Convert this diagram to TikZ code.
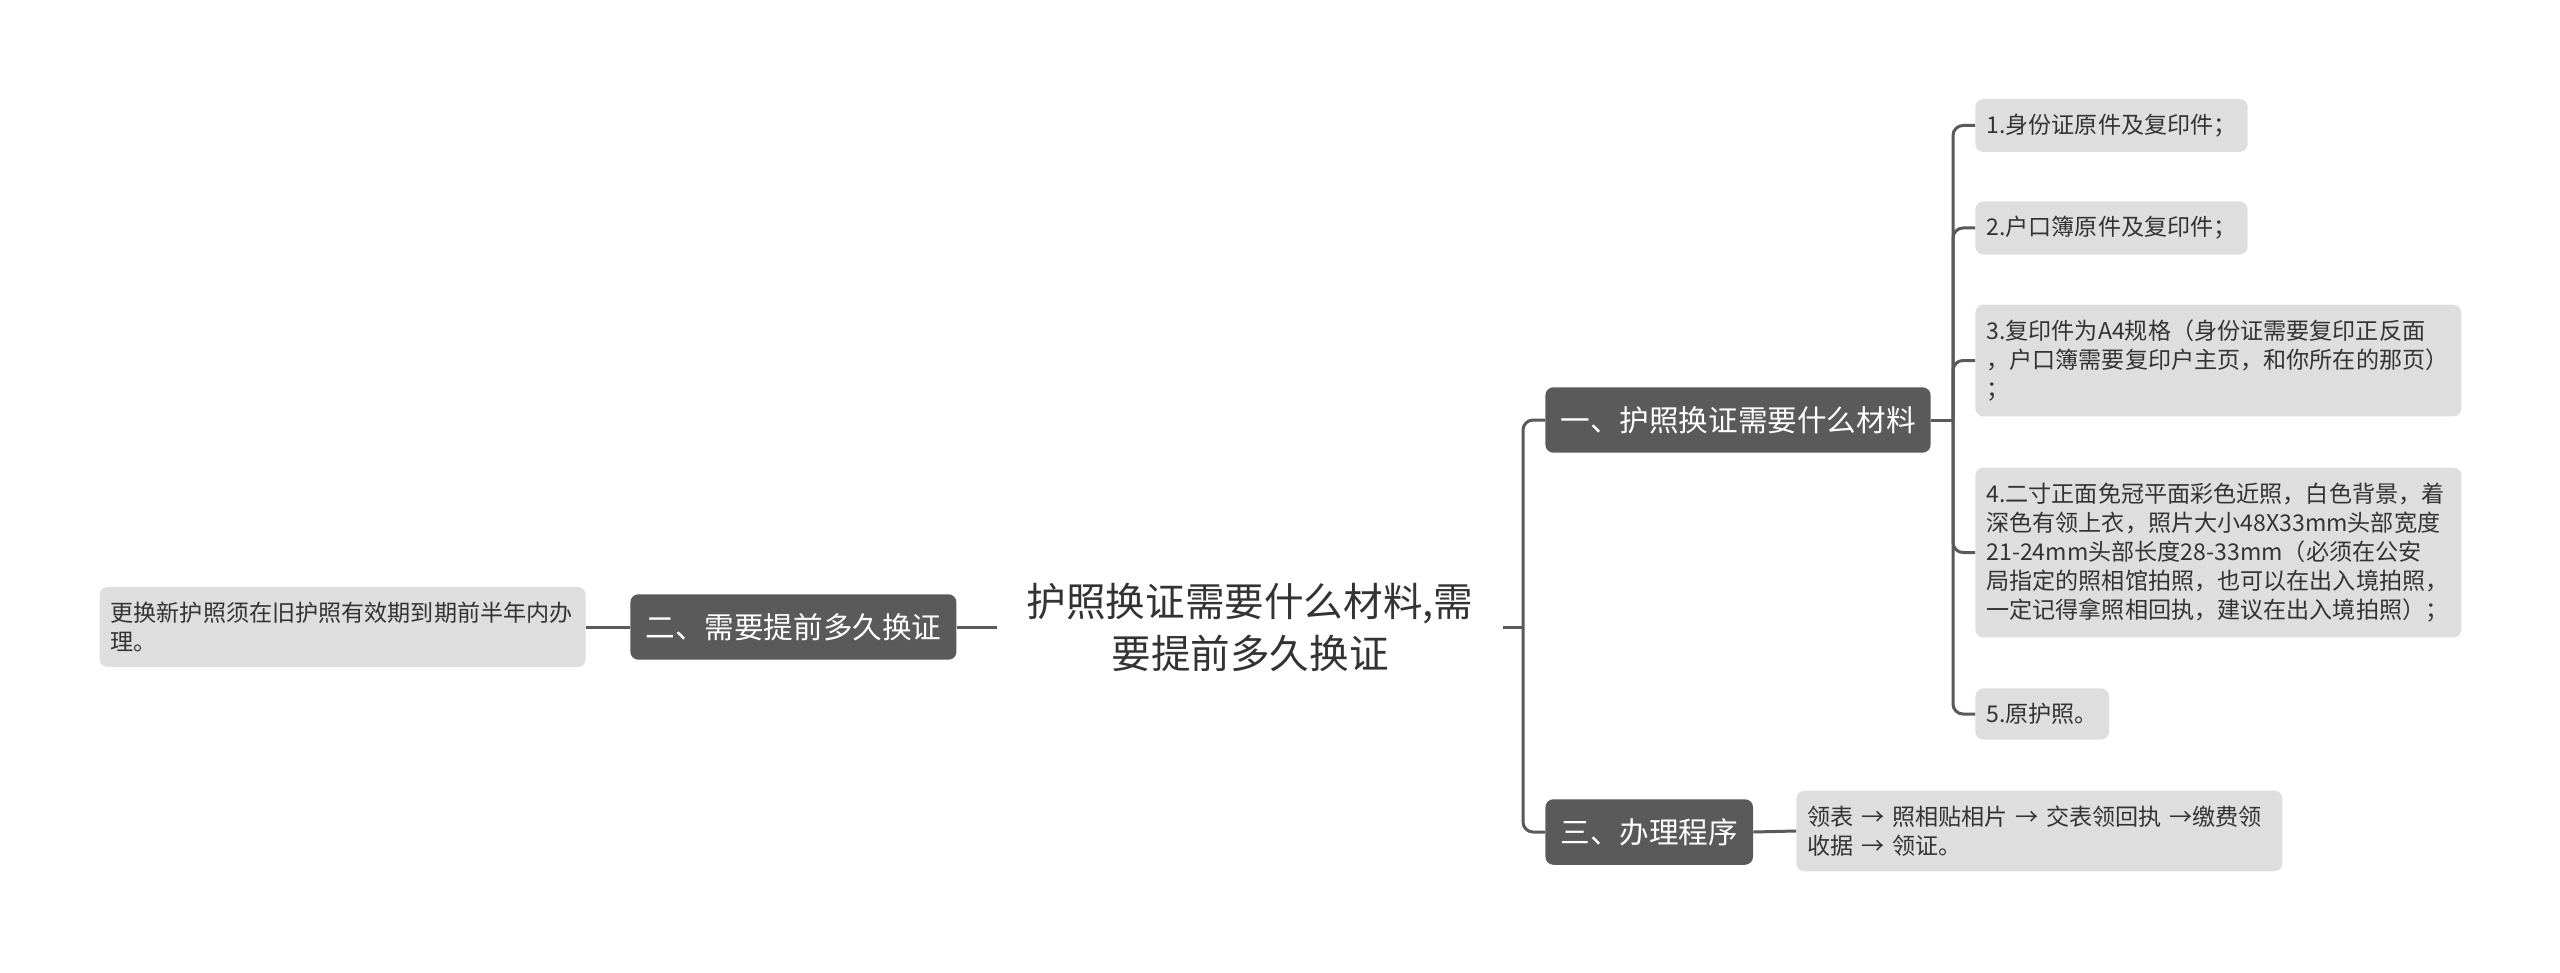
\documentclass[tikz,border=0pt]{standalone}
\usepackage{fontspec}
\setmainfont{Noto Sans CJK SC}
\definecolor{darkbox}{HTML}{5A5A5A}
\definecolor{leafbox}{HTML}{DEDEDE}
\definecolor{txt}{HTML}{333333}
\begin{document}
\begin{tikzpicture}[x=0.5pt,y=-0.5pt,
    topic/.style={fill=darkbox,text=white,rounded corners=4pt,font=\fontsize{14.8}{18}\selectfont,inner xsep=7.5pt,inner ysep=9.5pt,anchor=west},
    leaf/.style={fill=leafbox,text=txt,rounded corners=4pt,font=\fontsize{11.55}{14.6}\selectfont,inner xsep=5.5pt,inner ysep=7.45pt,align=left,anchor=west},
    link/.style={draw=darkbox,line width=1.5pt},
    elbow/.style={link,rounded corners=5pt}]
    \path[use as bounding box,fill=white] (0,0) rectangle (2560,973);
    % centre
    \node[text=txt,align=center,inner xsep=14.5pt,font=\fontsize{19.8}{26}\selectfont] (root) at (1250,627) {护照换证需要什么材料,需\\要提前多久换证};
    % left branch
    \node[topic] (m2) at (630,627) {二、需要提前多久换证};
    \node[leaf,anchor=east,text width=232pt] (lL) at (586,627) {更换新护照须在旧护照有效期到期前半年内办\\理。};
    % right branches
    \node[topic] (m1) at (1545,420) {一、护照换证需要什么材料};
    \node[topic] (m3) at (1545,832) {三、办理程序};
    \node[leaf] (l1) at (1975,125.5) {1.身份证原件及复印件；};
    \node[leaf] (l2) at (1975,228) {2.户口簿原件及复印件；};
    \node[leaf,text width=232pt] (l3) at (1975,360.5) {3.复印件为A4规格（身份证需要复印正反面\\，户口簿需要复印户主页，和你所在的那页）\\；};
    \node[leaf,text width=232pt] (l4) at (1975,552.5) {4.二寸正面免冠平面彩色近照，白色背景，着\\深色有领上衣，照片大小48X33mm头部宽度\\21-24mm头部长度28-33mm（必须在公安\\局指定的照相馆拍照，也可以在出入境拍照，\\一定记得拿照相回执，建议在出入境拍照）；};
    \node[leaf] (l5) at (1975,714) {5.原护照。};
    \node[leaf,text width=232pt] (lP) at (1796,831) {领表 → 照相贴相片 → 交表领回执 →缴费领\\收据 → 领证。};
    \coordinate (j0) at (1523,627);
    \coordinate (j1) at (1953,420);
    % connectors
    \draw[link] (m2.east) -- (root.west);
    \draw[link] (lL.east) -- (m2.west);
    \draw[link] (root.east) -- (j0);
    \draw[elbow] (j0) |- (m1.west);
    \draw[elbow] (j0) |- (m3.west);
    \draw[link] (m1.east) -- (j1);
    \foreach \n in {l1,l2,l3,l4,l5}
        \draw[elbow] (j1) |- (\n.west);
    \draw[link] (m3.east) -- (lP.west);
\end{tikzpicture}
\end{document}
